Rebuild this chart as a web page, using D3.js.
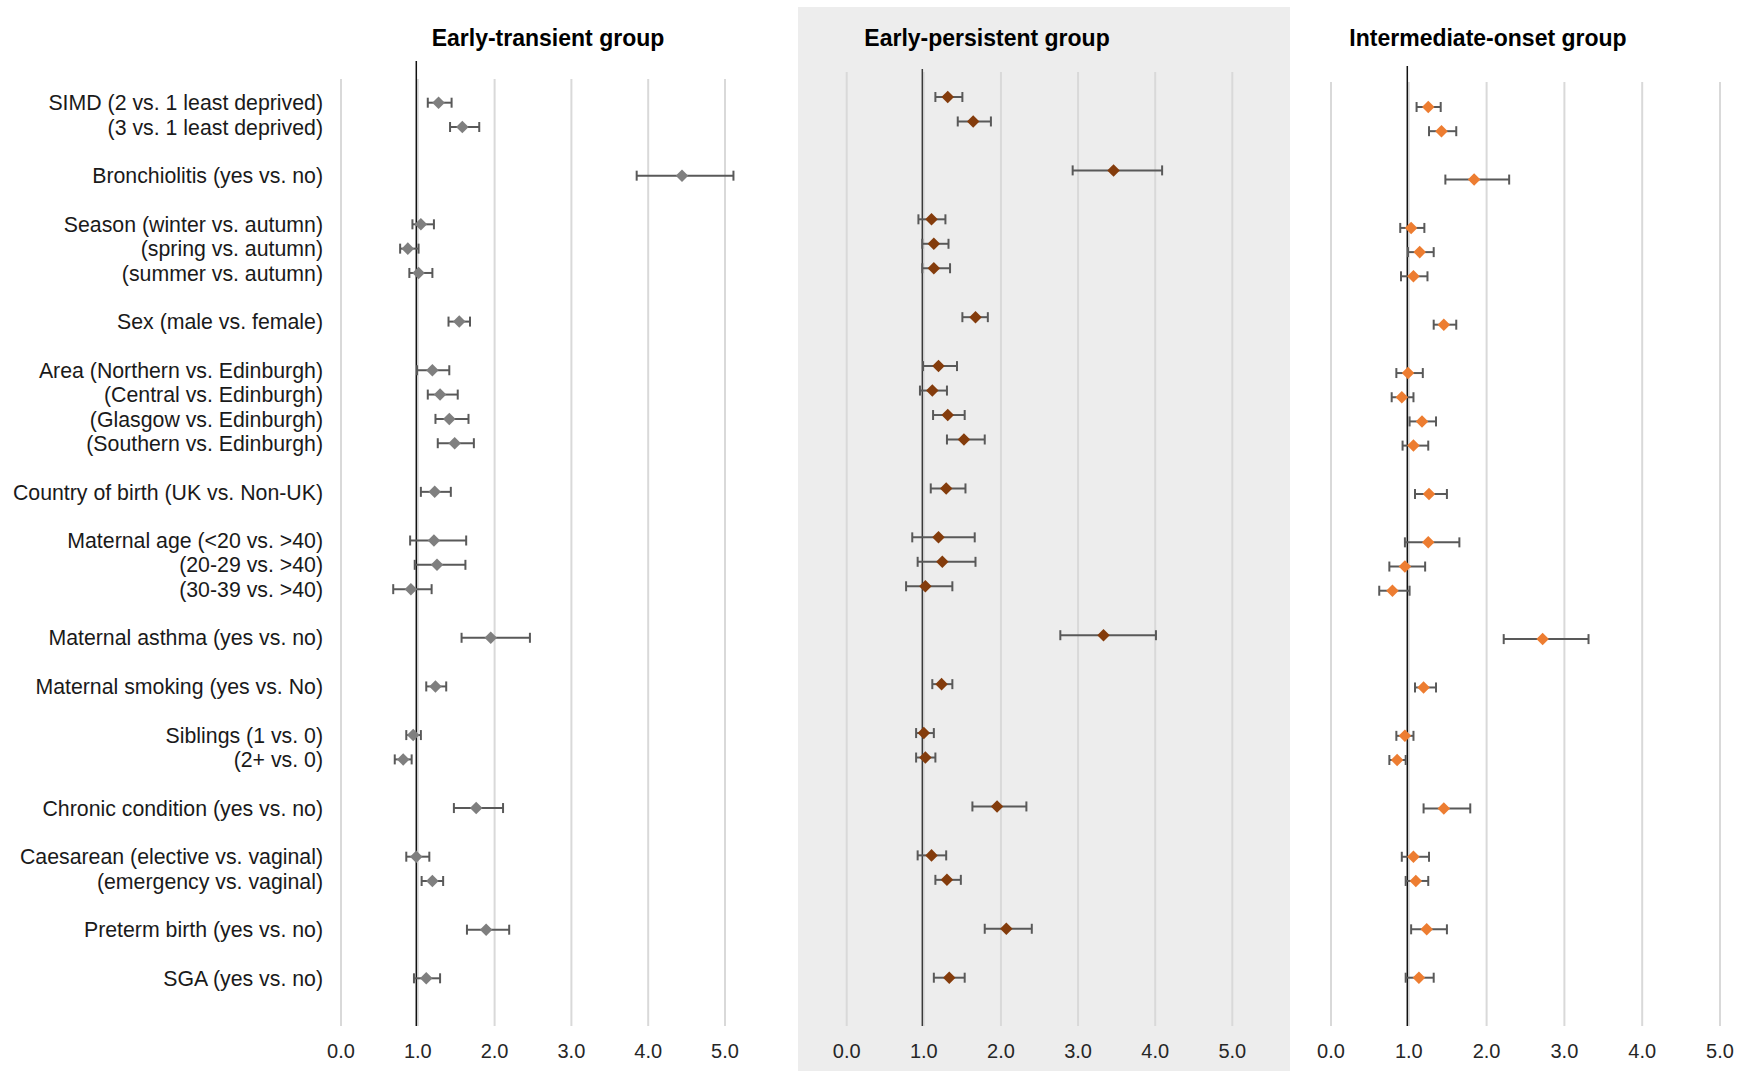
<!DOCTYPE html>
<html lang="en">
<head>
<meta charset="utf-8">
<title>Odds ratios by wheeze group</title>
<script src="https://d3js.org/d3.v7.min.js"></script>
<style>
  body { margin: 0; background: #fff; }
  svg { display: block; }
  text { font-family: "Liberation Sans", Arial, sans-serif; }
</style>
</head>
<body>
<script>
// row labels, grouped (a blank row sits between groups)
var labelGroups = [
  ["SIMD (2 vs. 1 least deprived)", "(3 vs. 1 least deprived)"],
  ["Bronchiolitis (yes vs. no)"],
  ["Season (winter vs. autumn)", "(spring vs. autumn)", "(summer vs. autumn)"],
  ["Sex (male vs. female)"],
  ["Area (Northern vs. Edinburgh)", "(Central vs. Edinburgh)", "(Glasgow vs. Edinburgh)", "(Southern vs. Edinburgh)"],
  ["Country of birth (UK vs. Non-UK)"],
  ["Maternal age (<20 vs. >40)", "(20-29 vs. >40)", "(30-39 vs. >40)"],
  ["Maternal asthma (yes vs. no)"],
  ["Maternal smoking (yes vs. No)"],
  ["Siblings (1 vs. 0)", "(2+ vs. 0)"],
  ["Chronic condition (yes vs. no)"],
  ["Caesarean (elective vs. vaginal)", "(emergency vs. vaginal)"],
  ["Preterm birth (yes vs. no)"],
  ["SGA (yes vs. no)"]
];

var groupTitles = ["Early-transient group", "Early-persistent group", "Intermediate-onset group"];
var ticks = [0, 1, 2, 3, 4, 5];

// estimates and confidence limits, in row order
var transientOR = [1.27, 1.58, 4.44, 1.04, 0.87, 1.01, 1.54, 1.19, 1.29, 1.41, 1.48, 1.22, 1.21, 1.25, 0.91, 1.95, 1.23, 0.94, 0.81, 1.76, 0.98, 1.19, 1.89, 1.11];
var transientLo = [1.13, 1.42, 3.85, 0.93, 0.77, 0.89, 1.40, 0.99, 1.13, 1.23, 1.26, 1.04, 0.90, 0.96, 0.68, 1.57, 1.11, 0.85, 0.70, 1.47, 0.85, 1.05, 1.64, 0.95];
var transientHi = [1.44, 1.80, 5.11, 1.21, 1.01, 1.19, 1.68, 1.41, 1.52, 1.66, 1.73, 1.43, 1.63, 1.62, 1.18, 2.46, 1.37, 1.04, 0.92, 2.11, 1.15, 1.33, 2.19, 1.29];

var persistentOR = [1.31, 1.64, 3.46, 1.10, 1.13, 1.13, 1.67, 1.19, 1.11, 1.31, 1.52, 1.29, 1.19, 1.24, 1.02, 3.33, 1.23, 1.00, 1.02, 1.95, 1.10, 1.30, 2.07, 1.33];
var persistentLo = [1.15, 1.44, 2.93, 0.93, 0.98, 0.98, 1.50, 0.99, 0.95, 1.12, 1.30, 1.09, 0.85, 0.92, 0.77, 2.77, 1.11, 0.90, 0.90, 1.63, 0.92, 1.15, 1.79, 1.13];
var persistentHi = [1.50, 1.87, 4.09, 1.28, 1.32, 1.34, 1.83, 1.43, 1.30, 1.53, 1.79, 1.54, 1.66, 1.67, 1.37, 4.01, 1.37, 1.13, 1.15, 2.33, 1.29, 1.48, 2.40, 1.53];

var intermediateOR = [1.25, 1.42, 1.84, 1.03, 1.14, 1.06, 1.45, 0.99, 0.91, 1.17, 1.06, 1.26, 1.25, 0.95, 0.79, 2.72, 1.19, 0.95, 0.85, 1.45, 1.06, 1.09, 1.23, 1.13];
var intermediateLo = [1.10, 1.26, 1.47, 0.89, 0.99, 0.90, 1.32, 0.84, 0.78, 1.01, 0.92, 1.08, 0.95, 0.75, 0.62, 2.22, 1.08, 0.84, 0.75, 1.19, 0.91, 0.96, 1.03, 0.96];
var intermediateHi = [1.41, 1.61, 2.29, 1.20, 1.32, 1.24, 1.61, 1.18, 1.06, 1.35, 1.25, 1.49, 1.65, 1.21, 1.01, 3.31, 1.35, 1.06, 0.96, 1.79, 1.26, 1.25, 1.49, 1.32];

var W = 1747, H = 1071;
var svg = d3.select("body").append("svg").attr("width", W).attr("height", H);

// build row keys with blank spacer rows between groups
var rowKeys = [], rowLabels = [];
labelGroups.forEach(function(g, gi) {
  if (gi > 0) rowKeys.push("gap" + gi);
  g.forEach(function(l) { rowKeys.push(l); rowLabels.push(l); });
});

var panels = [
  {x0: 341, x5: 725, yTop: 102.7, yBot: 978.3, gridTop: 79, refTop: 61, titleX: 548, fill: "#7f7f7f", ref: "#111",
   est: transientOR, lo: transientLo, hi: transientHi},
  {x0: 846.7, x5: 1232.3, yTop: 97, yBot: 977.7, gridTop: 72, refTop: 69, titleX: 987, fill: "#843c0c", ref: "#3a3a3a",
   est: persistentOR, lo: persistentLo, hi: persistentHi, bg: [798, 7, 492, 1064]},
  {x0: 1331, x5: 1720, yTop: 107, yBot: 977.7, gridTop: 82, refTop: 66, titleX: 1488, fill: "#ed7d31", ref: "#111",
   est: intermediateOR, lo: intermediateLo, hi: intermediateHi}
];
var gridBottom = 1026;
var diamond = d3.symbol().type(d3.symbolDiamond2).size(100);

panels.forEach(function(p, pi) {
  var g = svg.append("g");
  var x = d3.scaleLinear().domain([0, 5]).range([p.x0, p.x5]);
  var y = d3.scalePoint().domain(rowKeys).range([p.yTop, p.yBot]).padding(0);

  if (p.bg) {
    g.append("rect").attr("x", p.bg[0]).attr("y", p.bg[1]).attr("width", p.bg[2]).attr("height", p.bg[3])
      .attr("fill", "#ededed");
  }

  // gridlines
  g.selectAll("line.grid").data(ticks).enter().append("line")
    .attr("class", "grid")
    .attr("x1", function(d) { return x(d); }).attr("x2", function(d) { return x(d); })
    .attr("y1", p.gridTop).attr("y2", gridBottom)
    .attr("stroke", "#d9d9d9").attr("stroke-width", 2);

  // tick labels
  g.selectAll("text.tick").data(ticks).enter().append("text")
    .attr("class", "tick")
    .attr("x", function(d) { return x(d); }).attr("y", 1058)
    .attr("text-anchor", "middle").attr("font-size", 20).attr("fill", "#262626")
    .text(function(d) { return d3.format(".1f")(d); });

  // reference line at 1
  g.append("line")
    .attr("x1", x(1) - 1.5).attr("x2", x(1) - 1.5)
    .attr("y1", p.refTop).attr("y2", gridBottom)
    .attr("stroke", p.ref).attr("stroke-width", 1.5);

  // title
  g.append("text").attr("x", p.titleX).attr("y", 46)
    .attr("text-anchor", "middle").attr("font-size", 23).attr("font-weight", "bold").attr("fill", "#000")
    .text(groupTitles[pi]);

  var rows = rowLabels.map(function(l, i) { return {key: l, est: p.est[i], lo: p.lo[i], hi: p.hi[i]}; });
  var r = g.selectAll("g.row").data(rows).enter().append("g").attr("class", "row")
    .attr("transform", function(d) { return "translate(0," + y(d.key) + ")"; });

  r.append("line").attr("x1", function(d) { return x(d.lo); }).attr("x2", function(d) { return x(d.hi); })
    .attr("stroke", "#595959").attr("stroke-width", 2);
  r.append("line").attr("x1", function(d) { return x(d.lo); }).attr("x2", function(d) { return x(d.lo); })
    .attr("y1", -5).attr("y2", 5).attr("stroke", "#595959").attr("stroke-width", 2);
  r.append("line").attr("x1", function(d) { return x(d.hi); }).attr("x2", function(d) { return x(d.hi); })
    .attr("y1", -5).attr("y2", 5).attr("stroke", "#595959").attr("stroke-width", 2);
  r.append("path")
    .attr("d", diamond)
    .attr("transform", function(d) { return "translate(" + x(d.est) + ",0)"; })
    .attr("fill", p.fill);

  // row labels only on the left panel
  if (pi === 0) {
    svg.selectAll("text.rowlab").data(rowLabels).enter().append("text")
      .attr("class", "rowlab")
      .attr("x", 323).attr("y", function(d) { return y(d); })
      .attr("dy", "0.36em")
      .attr("text-anchor", "end").attr("font-size", 21.3).attr("fill", "#1a1a1a")
      .text(function(d) { return d; });
  }
});
</script>
</body>
</html>
